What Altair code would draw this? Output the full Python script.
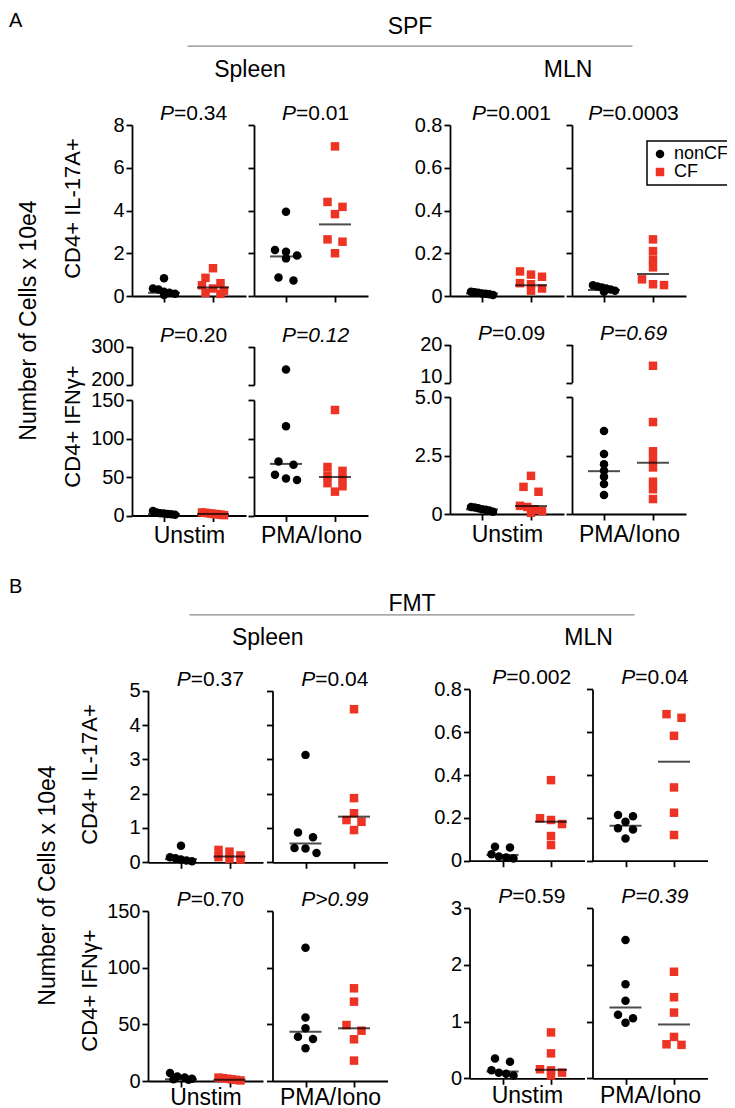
import altair as alt
import pandas as pd

FONT = "Liberation Sans"
RED = "#ED3324"
GROUPS = ["nonCF", "CF"]

# ======================= DATA: A (SPF) =======================
# Spleen, CD4+ IL-17A+
A_SPL_IL17_UNSTIM_NONCF = [0.83, 0.35, 0.30, 0.20, 0.15, 0.10, 0.05]
A_SPL_IL17_UNSTIM_CF = [1.30, 0.85, 0.60, 0.50, 0.35, 0.25, 0.15, 0.10]
A_SPL_IL17_PMA_NONCF = [3.94, 2.15, 2.07, 1.90, 1.76, 0.86, 0.72]
A_SPL_IL17_PMA_CF = [7.00, 4.40, 4.17, 3.83, 2.65, 2.54, 2.00]
A_SPL_IL17_LINES = [0.15, 0.40, 1.85, 3.35]
A_SPL_IL17_P = ["=0.34", "=0.01"]
# MLN, CD4+ IL-17A+
A_MLN_IL17_UNSTIM_NONCF = [0.020, 0.018, 0.015, 0.012, 0.010, 0.008, 0.005]
A_MLN_IL17_UNSTIM_CF = [0.115, 0.100, 0.090, 0.060, 0.055, 0.035, 0.025]
A_MLN_IL17_PMA_NONCF = [0.050, 0.045, 0.040, 0.035, 0.030, 0.025, 0.020]
A_MLN_IL17_PMA_CF = [0.265, 0.210, 0.170, 0.134, 0.078, 0.055, 0.051]
A_MLN_IL17_LINES = [0.012, 0.050, 0.028, 0.103]
A_MLN_IL17_P = ["=0.001", "=0.0003"]
# Spleen, CD4+ IFNg+
A_SPL_IFN_UNSTIM_NONCF = [6, 4, 3, 2.5, 2, 1.5, 1]
A_SPL_IFN_UNSTIM_CF = [4, 3.5, 3, 2.5, 2, 1.5, 1, 0.5]
A_SPL_IFN_PMA_NONCF = [240, 116, 70, 66, 53, 48, 46]
A_SPL_IFN_PMA_CF = [137, 63, 58, 52, 48, 42, 38, 31]
A_SPL_IFN_LINES = [2, 2, 67, 50]
A_SPL_IFN_P = ["=0.20", "=0.12"]
# MLN, CD4+ IFNg+
A_MLN_IFN_UNSTIM_NONCF = [0.30, 0.28, 0.25, 0.20, 0.18, 0.15, 0.10]
A_MLN_IFN_UNSTIM_CF = [1.63, 1.16, 0.95, 0.35, 0.30, 0.20, 0.12, 0.05]
A_MLN_IFN_PMA_NONCF = [3.55, 2.56, 2.13, 1.85, 1.59, 1.28, 0.81]
A_MLN_IFN_PMA_CF = [14.4, 3.93, 2.68, 2.34, 1.99, 1.38, 1.06, 0.64]
A_MLN_IFN_LINES = [0.20, 0.34, 1.83, 2.19]
A_MLN_IFN_P = ["=0.09", "=0.69"]

# ======================= DATA: B (FMT) =======================
B_SPL_IL17_UNSTIM_NONCF = [0.48, 0.15, 0.12, 0.08, 0.05, 0.03]
B_SPL_IL17_UNSTIM_CF = [0.36, 0.31, 0.20, 0.15, 0.10, 0.08]
B_SPL_IL17_PMA_NONCF = [3.13, 0.87, 0.73, 0.42, 0.40, 0.27]
B_SPL_IL17_PMA_CF = [4.46, 1.87, 1.43, 1.23, 1.18, 0.94]
B_SPL_IL17_LINES = [0.09, 0.17, 0.55, 1.33]
B_SPL_IL17_P = ["=0.37", "=0.04"]

B_MLN_IL17_UNSTIM_NONCF = [0.065, 0.062, 0.030, 0.020, 0.015, 0.010]
B_MLN_IL17_UNSTIM_CF = [0.376, 0.198, 0.190, 0.171, 0.115, 0.073]
B_MLN_IL17_PMA_NONCF = [0.213, 0.208, 0.182, 0.151, 0.146, 0.104]
B_MLN_IL17_PMA_CF = [0.684, 0.667, 0.583, 0.342, 0.224, 0.120]
B_MLN_IL17_LINES = [0.027, 0.182, 0.163, 0.462]
B_MLN_IL17_P = ["=0.002", "=0.04"]

B_SPL_IFN_UNSTIM_NONCF = [7, 4, 3, 2, 1.5, 1]
B_SPL_IFN_UNSTIM_CF = [3, 2.5, 2, 1.5, 1, 0.5]
B_SPL_IFN_PMA_NONCF = [117.6, 56, 46.5, 39, 37, 29]
B_SPL_IFN_PMA_CF = [81.8, 70, 49.4, 44.4, 36.8, 18]
B_SPL_IFN_LINES = [1.5, 1.2, 43.5, 46.5]
B_SPL_IFN_P = ["=0.70", ">0.99"]

B_MLN_IFN_UNSTIM_NONCF = [0.35, 0.29, 0.14, 0.10, 0.08, 0.05]
B_MLN_IFN_UNSTIM_CF = [0.81, 0.44, 0.16, 0.14, 0.10, 0.05]
B_MLN_IFN_PMA_NONCF = [2.44, 1.66, 1.37, 1.12, 1.06, 0.98]
B_MLN_IFN_PMA_CF = [1.88, 1.43, 1.16, 0.73, 0.60, 0.59]
B_MLN_IFN_LINES = [0.12, 0.15, 1.25, 0.95]
B_MLN_IFN_P = ["=0.59", "=0.39"]

# ======================= LAYOUT =======================
W, H, OFF = 719, 1100, 8
P_FS = 21

INT_FMT = "format(datum.value, 'd')"
DEC_FMT = "datum.value == 0 ? '0' : format(datum.value, '.1f')"


def swarm(vals, ppu, thresh=6.0, step=15.0, maxspan=22.0):
    order = sorted(range(len(vals)), key=lambda i: -vals[i])
    rows, cur = [], []
    for i in order:
        if cur and (vals[cur[0]] - vals[i]) * ppu > thresh:
            rows.append(cur)
            cur = []
        cur.append(i)
    if cur:
        rows.append(cur)
    offs = [0.0] * len(vals)
    for r in rows:
        n = len(r)
        sp = step if n < 2 else min(step, maxspan / (n - 1))
        for k, i in enumerate(r):
            offs[i] = (k - (n - 1) / 2) * sp
    return offs


def tw(s, fs):
    table = {"P": 667, "=": 584, ">": 584, ".": 278}
    return sum(table.get(c, 556) for c in s) / 1000 * fs


def panel(xl, w, cats, yb, yt, dom, ticks, fmt, groups, centers,
          ytitle=None, ytitle_c=None, xaxis=True, xtitle=None, xtitle_gap=27,
          ptxt=None, pitalic=False, upper=False):
    c0, c1 = cats
    ppx = c1 - c0
    ppy = (yb - yt) / (dom[1] - dom[0])
    recs = []
    for gi, (g, vals) in enumerate(zip(GROUPS, groups)):
        vv = [v for v in vals if dom[0] <= v <= dom[1]]
        offs = swarm(vv, ppy)
        for v, o in zip(vv, offs):
            recs.append({"grp": g, "xv": gi + o / ppx, "val": v})
    df = pd.DataFrame(recs, columns=["grp", "xv", "val"])
    ctr = pd.DataFrame([{"xv": gi, "val": c} for gi, c in enumerate(centers)
                        if dom[0] <= c <= dom[1]], columns=["xv", "val"])
    xs = alt.Scale(domain=[-c0 / ppx, (w - c0) / ppx], range=[xl - OFF, xl + w - OFF],
                   nice=False, zero=False)
    ys = alt.Scale(domain=list(dom), range=[yb - OFF, yt - OFF], nice=False, zero=False)

    yk = dict(orient="left", offset=-(xl - OFF), values=ticks, labels=fmt is not None)
    if fmt is not None:
        yk["labelExpr"] = fmt
    if upper:
        yk["labelBaseline"] = {"condition": {"test": f"datum.value == {dom[0]}",
                                             "value": "alphabetic"}, "value": "middle"}
    if ytitle:
        cx, cy, fs = ytitle_c
        yk.update(title=ytitle, titleX=cx - xl, titleY=cy - OFF, titleAngle=270,
                  titleAlign="center", titleBaseline="middle", titleFontSize=fs)
    else:
        yk["title"] = None
    yax = alt.Axis(**yk)

    if xaxis:
        xk = dict(orient="bottom", offset=(yb - OFF) - H, values=[0, 1], labels=False)
        if xtitle:
            xk.update(title=xtitle, titleX=xl - OFF + w / 2, titleY=xtitle_gap,
                      titleBaseline="alphabetic", titleAlign="center", titleFontSize=23)
        else:
            xk["title"] = None
        xax = alt.Axis(**xk)
    else:
        xax = None

    X = alt.X("xv:Q", scale=xs, axis=xax)
    Y = alt.Y("val:Q", scale=ys, axis=yax)

    layers = [alt.Chart(df).mark_point(filled=True, size=72, opacity=1).encode(
        x=X, y=Y,
        color=alt.Color("grp:N", scale=alt.Scale(domain=GROUPS, range=["black", RED]), title=None),
        shape=alt.Shape("grp:N", scale=alt.Scale(domain=GROUPS, range=["circle", "square"]), title=None),
    )]
    if len(ctr):
        layers.append(alt.Chart(ctr).mark_tick(orient="horizontal", size=32, thickness=2,
                                               color="black").encode(x=X, y=Y))
    if ptxt:
        dx = 5 + (tw("P", P_FS) - tw(ptxt, P_FS)) / 2
        dfp = pd.DataFrame({"xv": [0.5], "val": [dom[1]], "p": ["P"], "r": [ptxt]})
        base = alt.Chart(dfp).encode(x=X, y=Y)
        layers.append(base.mark_text(font=FONT, fontSize=P_FS, fontStyle="italic", align="right",
                                     baseline="alphabetic", dx=dx, dy=-5, color="black"
                                     ).encode(text="p:N"))
        layers.append(base.mark_text(font=FONT, fontSize=P_FS,
                                     fontStyle="italic" if pitalic else "normal", align="left",
                                     baseline="alphabetic", dx=dx, dy=-5, color="black"
                                     ).encode(text="r:N"))
    return alt.layer(*layers)


def header(title, title_base, line_l, line_r, line_y, labels, label_px, label_base):
    L0, L1 = label_px
    a = (line_l - L0) / (L1 - L0)
    b = (line_r - L0) / (L1 - L0)
    df = pd.DataFrame({"lab": labels, "pos": [0, 1]})
    return alt.Chart(df).mark_text(font=FONT, fontSize=23, baseline="alphabetic", align="center",
                                   color="black").encode(
        x=alt.X("pos:Q", scale=alt.Scale(domain=[a, b], range=[line_l - OFF, line_r - OFF],
                                         nice=False, zero=False),
                axis=alt.Axis(orient="top", offset=-(line_y - OFF), domainColor="#8a8a8a",
                              domainWidth=1.2, ticks=False, labels=False, title=title,
                              titleX=(line_l + line_r) / 2 - OFF, titleY=title_base - line_y,
                              titleBaseline="alphabetic", titleAlign="center", titleFontSize=23)),
        y=alt.value(label_base - OFF),
        text="lab:N")


def letter(t, base):
    return alt.Chart(pd.DataFrame({"t": [t]})).mark_text(
        font=FONT, fontSize=20, align="left", baseline="alphabetic", color="black").encode(
        x=alt.value(1), y=alt.value(base - OFF), text="t:N")


NUM_TITLE = "Number of Cells x 10e4"
IL_TITLE = "CD4+ IL-17A+"
IFN_TITLE = "CD4+ IFNγ+"

layers = []

# ---------------- Section A ----------------
AX = {"SU": 132, "SP": 254, "MU": 450, "MP": 572}
AW, AC = 114, (32, 81)
layers.append(panel(AX["SU"], AW, AC, 296, 125, (0, 8), [0, 2, 4, 6, 8], INT_FMT,
                    [A_SPL_IL17_UNSTIM_NONCF, A_SPL_IL17_UNSTIM_CF], A_SPL_IL17_LINES[0:2],
                    ytitle=IL_TITLE, ytitle_c=(72, 208, 22), ptxt=A_SPL_IL17_P[0]))
layers.append(panel(AX["SP"], AW, AC, 296, 125, (0, 8), [0, 2, 4, 6, 8], None,
                    [A_SPL_IL17_PMA_NONCF, A_SPL_IL17_PMA_CF], A_SPL_IL17_LINES[2:4],
                    ptxt=A_SPL_IL17_P[1]))
layers.append(panel(AX["MU"], AW, AC, 296, 125, (0, 0.8), [0, 0.2, 0.4, 0.6, 0.8], DEC_FMT,
                    [A_MLN_IL17_UNSTIM_NONCF, A_MLN_IL17_UNSTIM_CF], A_MLN_IL17_LINES[0:2],
                    ptxt=A_MLN_IL17_P[0]))
layers.append(panel(AX["MP"], AW, AC, 296, 125, (0, 0.8), [0, 0.2, 0.4, 0.6, 0.8], None,
                    [A_MLN_IL17_PMA_NONCF, A_MLN_IL17_PMA_CF], A_MLN_IL17_LINES[2:4],
                    ptxt=A_MLN_IL17_P[1]))
for key, grp, lines, p, ital, fmt, xt, first in [
    ("SU", [A_SPL_IFN_UNSTIM_NONCF, A_SPL_IFN_UNSTIM_CF], A_SPL_IFN_LINES[0:2], A_SPL_IFN_P[0], False, INT_FMT, "Unstim", True),
    ("SP", [A_SPL_IFN_PMA_NONCF, A_SPL_IFN_PMA_CF], A_SPL_IFN_LINES[2:4], A_SPL_IFN_P[1], True, None, "PMA/Iono", False),
]:
    layers.append(panel(AX[key], AW, AC, 385, 346.5, (200, 300), [200, 300], fmt, grp, lines,
                        ytitle=NUM_TITLE if first else None, ytitle_c=(28, 320, 23),
                        xaxis=False, ptxt=p, pitalic=ital, upper=True))
    layers.append(panel(AX[key], AW, AC, 515.5, 400, (0, 150), [0, 50, 100, 150], fmt, grp, lines,
                        ytitle=IFN_TITLE if first else None, ytitle_c=(72, 426, 22),
                        xtitle=xt))
for key, grp, lines, p, ital, fmt, xt in [
    ("MU", [A_MLN_IFN_UNSTIM_NONCF, A_MLN_IFN_UNSTIM_CF], A_MLN_IFN_LINES[0:2], A_MLN_IFN_P[0], False, True, "Unstim"),
    ("MP", [A_MLN_IFN_PMA_NONCF, A_MLN_IFN_PMA_CF], A_MLN_IFN_LINES[2:4], A_MLN_IFN_P[1], True, False, "PMA/Iono"),
]:
    layers.append(panel(AX[key], AW, AC, 382.5, 344.5, (10, 20), [10, 20],
                        INT_FMT if fmt else None, grp, lines, xaxis=False, ptxt=p, pitalic=ital,
                        upper=True))
    layers.append(panel(AX[key], AW, AC, 514, 397, (0, 5), [0, 2.5, 5],
                        DEC_FMT if fmt else None, grp, lines, xtitle=xt))

layers.append(header("SPF", 33, 187, 632, 45.7, ["Spleen", "MLN"],
                     ((AX["SU"] + AX["SP"] + AW) / 2, (AX["MU"] + AX["MP"] + AW) / 2), 77))
layers.append(letter("A", 27))

# ---------------- Section B ----------------
BX = {"SU": 148, "SP": 272.5, "MU": 469.5, "MP": 592.5}
BW, BC = 115, (33, 81.5)
layers.append(panel(BX["SU"], BW, BC, 862.3, 690.7, (0, 5), [0, 1, 2, 3, 4, 5], INT_FMT,
                    [B_SPL_IL17_UNSTIM_NONCF, B_SPL_IL17_UNSTIM_CF], B_SPL_IL17_LINES[0:2],
                    ytitle=IL_TITLE, ytitle_c=(89, 774, 22), ptxt=B_SPL_IL17_P[0]))
layers.append(panel(BX["SP"], BW, BC, 862.3, 690.7, (0, 5), [0, 1, 2, 3, 4, 5], None,
                    [B_SPL_IL17_PMA_NONCF, B_SPL_IL17_PMA_CF], B_SPL_IL17_LINES[2:4],
                    ytitle=NUM_TITLE, ytitle_c=(47, 885, 23), ptxt=B_SPL_IL17_P[1]))
layers.append(panel(BX["MU"], BW, BC, 860.7, 689.3, (0, 0.8), [0, 0.2, 0.4, 0.6, 0.8], DEC_FMT,
                    [B_MLN_IL17_UNSTIM_NONCF, B_MLN_IL17_UNSTIM_CF], B_MLN_IL17_LINES[0:2],
                    ptxt=B_MLN_IL17_P[0]))
layers.append(panel(BX["MP"], BW, BC, 860.7, 689.3, (0, 0.8), [0, 0.2, 0.4, 0.6, 0.8], None,
                    [B_MLN_IL17_PMA_NONCF, B_MLN_IL17_PMA_CF], B_MLN_IL17_LINES[2:4],
                    ptxt=B_MLN_IL17_P[1]))
layers.append(panel(BX["SU"], BW, BC, 1081, 911, (0, 150), [0, 50, 100, 150], INT_FMT,
                    [B_SPL_IFN_UNSTIM_NONCF, B_SPL_IFN_UNSTIM_CF], B_SPL_IFN_LINES[0:2],
                    ytitle=IFN_TITLE, ytitle_c=(89, 990, 22), xtitle="Unstim", xtitle_gap=23,
                    ptxt=B_SPL_IFN_P[0]))
layers.append(panel(BX["SP"], BW, BC, 1081, 911, (0, 150), [0, 50, 100, 150], None,
                    [B_SPL_IFN_PMA_NONCF, B_SPL_IFN_PMA_CF], B_SPL_IFN_LINES[2:4],
                    xtitle="PMA/Iono", xtitle_gap=23, ptxt=B_SPL_IFN_P[1], pitalic=True))
layers.append(panel(BX["MU"], BW, BC, 1078.3, 908.3, (0, 3), [0, 1, 2, 3], INT_FMT,
                    [B_MLN_IFN_UNSTIM_NONCF, B_MLN_IFN_UNSTIM_CF], B_MLN_IFN_LINES[0:2],
                    xtitle="Unstim", xtitle_gap=24, ptxt=B_MLN_IFN_P[0]))
layers.append(panel(BX["MP"], BW, BC, 1078.3, 908.3, (0, 3), [0, 1, 2, 3], None,
                    [B_MLN_IFN_PMA_NONCF, B_MLN_IFN_PMA_CF], B_MLN_IFN_LINES[2:4],
                    xtitle="PMA/Iono", xtitle_gap=24, ptxt=B_MLN_IFN_P[1], pitalic=True))

layers.append(header("FMT", 610, 189, 634, 614.3, ["Spleen", "MLN"],
                     ((BX["SU"] + BX["SP"] + BW) / 2, (BX["MU"] + BX["MP"] + BW) / 2), 645))
layers.append(letter("B", 593))

chart = alt.layer(*layers).resolve_scale(
    x="independent", y="independent"
).resolve_axis(
    x="independent", y="independent"
).properties(
    width=W, height=H, padding=0, autosize=alt.AutoSizeParams(type="none")
).configure_view(stroke=None).configure_axis(
    domainColor="black", tickColor="black", domainWidth=1.8, tickWidth=1.8, tickSize=6,
    grid=False, labelFont=FONT, labelFontSize=20, labelColor="black", labelPadding=2,
    titleFont=FONT, titleFontWeight="normal", titleColor="black",
    labelFlush=False, labelOverlap=False, labelBound=False
).configure_legend(
    orient="none", legendX=639, legendY=133, strokeColor="black", strokeWidth=1.5,
    padding=4, labelFont=FONT, labelFontSize=18, labelColor="black", symbolSize=72,
    rowPadding=0, symbolOffset=0, labelOffset=5, fillColor="white"
)

chart.save("out.html", embed_options={"renderer": "svg", "actions": False})
